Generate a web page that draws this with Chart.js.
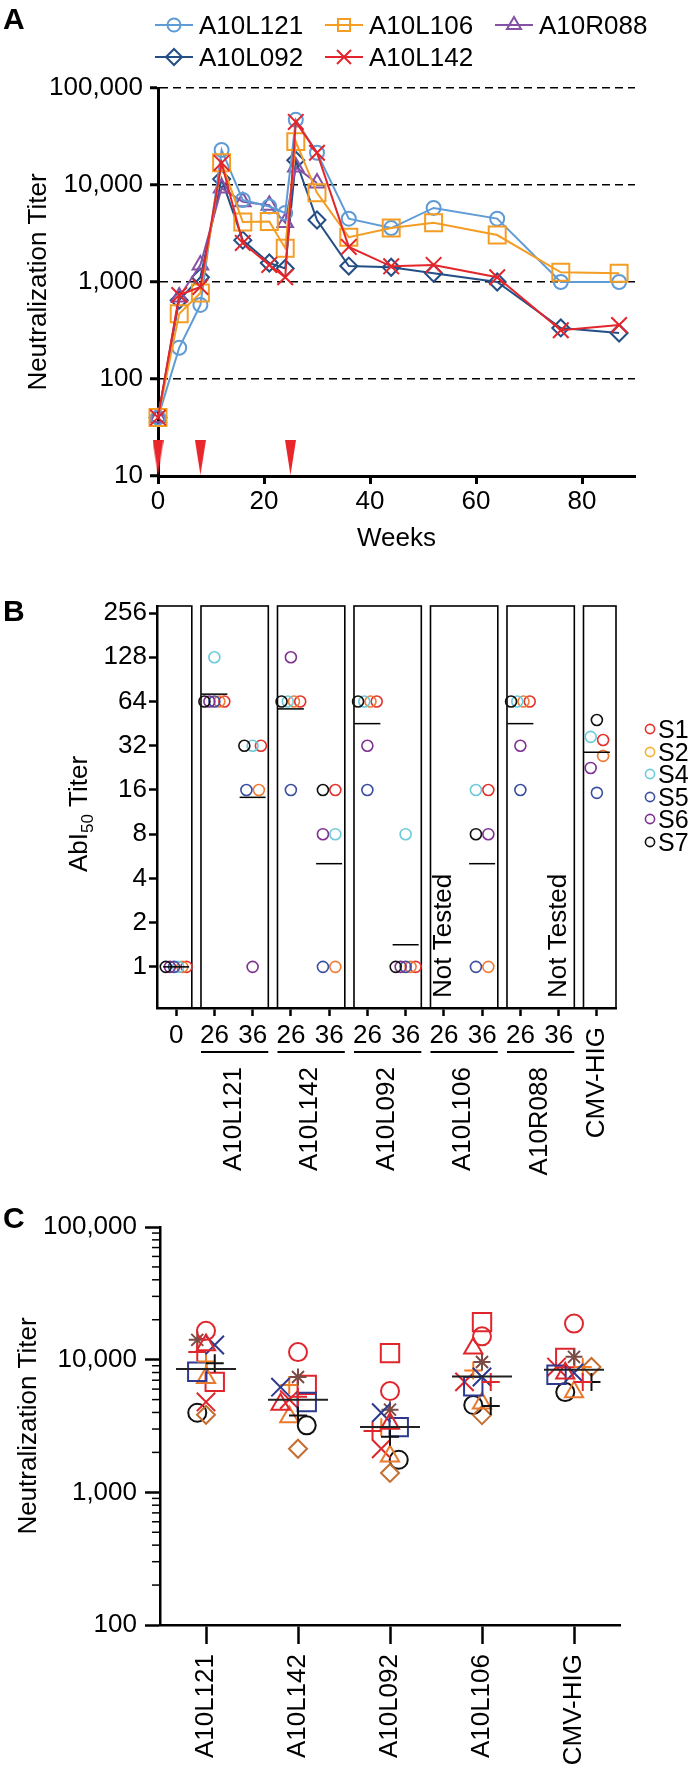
<!DOCTYPE html>
<html>
<head>
<meta charset="utf-8">
<title>Neutralization titers</title>
<script src="https://cdn.jsdelivr.net/npm/chart.js@4.4.1/dist/chart.umd.min.js"></script>
<style>
  html, body { margin:0; padding:0; background:#fff; }
  body { width:700px; height:1769px; position:relative; overflow:hidden;
         font-family:"Liberation Sans", Arial, Helvetica, sans-serif; color:#000; }
  canvas { position:absolute; left:0; }
  .plab { position:absolute; left:3px; font-weight:bold; font-size:30px; line-height:30px; z-index:2; }
  .legA { position:absolute; height:32px; display:flex; align-items:center; font-size:26px; line-height:32px; white-space:nowrap; z-index:2; }
  .legA svg { margin-right:6px; flex:none; }
  .legB { position:absolute; left:644px; height:28px; display:flex; align-items:center; font-size:25px; line-height:28px; white-space:nowrap; z-index:2; }
  .legB svg { margin-right:2px; flex:none; }
</style>
</head>
<body>
<div class="plab" style="top:4px;">A</div>
<div class="plab" style="top:596px;">B</div>
<div class="plab" style="top:1203px;">C</div>
<div id="legendA"></div>
<div id="legendB"></div>
<canvas id="chartA" width="700" height="554" style="top:0px"></canvas>
<canvas id="chartB" width="700" height="600" style="top:580px"></canvas>
<canvas id="chartC" width="700" height="589" style="top:1180px"></canvas>
<script>
// ================= DATA =================
// ---- Panel A: neutralization titer over time ----
const weeks   = [0, 4, 8, 12, 16, 21, 24, 26, 30, 36, 44, 52, 64, 76, 87];
const A10L121 = [40, 210, 580, 23000, 7000, 6000, 5150, 47000, 21500, 4500, 3600, 5800, 4500, 1000, 1000];
const A10L106 = [40, 470, 770, 17000, 4150, 4200, 2230, 28000, 8300, 2900, 3600, 4080, 3050, 1260, 1230];
const A10R088 = [40, 700, 1500, 9300, 6700, 6200, 4100, 15300, 10500, null, null, null, null, null, null];
const A10L092 = [40, 650, 1120, 11500, 2700, 1570, 1380, 18000, 4360, 1460, 1420, 1230, 1000, 336, 298];
const A10L142 = [40, 735, 890, 16900, 2530, 1500, 1120, 44700, 21500, 2300, 1450, 1500, 1120, 318, 360];
const vaccinationWeeks = [0, 8, 25];
const vaccinationMarkTiter = 15.5;
const aYTicks = [10, 100, 1000, 10000, 100000];
const aXTicks = [0, 20, 40, 60, 80];

// ---- Panel B: AbI50 titer per subject (null = not tested) ----
const bCategories = ['0', '26', '36', '26', '36', '26', '36', '26', '36', '26', '36', 'CMV-HIG'];
const bGroups     = ['A10L121', 'A10L142', 'A10L092', 'A10L106', 'A10R088'];
const S1 = [1, 64, 32, 64, 16, 64, 1, null, 16, 64, null, 35];
const S2 = [1, 64, 16, 64, 1, 64, 1, null, 1, 64, null, 27.3];
const S4 = [1, 128, 32, 64, 8, 64, 8, null, 16, 64, null, 36.8];
const S5 = [1, 64, 16, 16, 1, 16, 1, null, 1, 16, null, 15.3];
const S6 = [1, 64, 1, 128, 8, 32, 1, null, 8, 32, null, 22.6];
const S7 = [1, 64, 32, 64, 16, 64, 1, null, 8, 64, null, 47.9];
const bYTicks = [1, 2, 4, 8, 16, 32, 64, 128, 256];

// ---- Panel C: neutralization titer per animal ----
const cCategories = ['A10L121', 'A10L142', 'A10L092', 'A10L106', 'CMV-HIG'];
const cAnimal01 = [16500, 11400, 5800, 15000, 18700];  // red circle
const cAnimal02 = [12900, 4600, 3300, 12200, 7900];    // red triangle
const cAnimal03 = [11400, 5250, 2900, 6800, 6800];     // red plus
const cAnimal04 = [12900, 6200, 3980, 7400, 7950];     // navy x
const cAnimal05 = [14100, 7400, 4200, 9600, 10500];    // brown asterisk
const cAnimal06 = [9400, 3800, 2620, 4480, 6800];      // black plus
const cAnimal07 = [9700, 6450, 3100, 8300, 8800];      // orange plus
const cAnimal08 = [8100, 4800, 3100, 6300, 7700];      // navy square
const cAnimal09 = [7300, 3700, 1870, 4700, 5700];      // orange triangle
const cAnimal10 = [6800, 6450, 11200, 19200, 10300];   // red square
const cAnimal11 = [4800, 5000, 2130, 6800, 8800];      // red x
const cAnimal12 = [3840, 2130, 1400, 3820, 8800];      // brown diamond
const cAnimal13 = [3980, 3200, 1760, 4550, 5700];      // black circle
const cYTicks = [100, 1000, 10000, 100000];

// ================= STYLE =================
const FONT = '"Liberation Sans", Arial, Helvetica, sans-serif';
Chart.defaults.font.family = FONT;
Chart.defaults.color = '#000';
const TXT = {size: 26, family: FONT};
const NONE = 'rgba(0,0,0,0)';
const fmtComma = v => Number(v).toLocaleString('en-US');
const geomean = arr => { const a = arr.filter(v => v != null); return a.length ? Math.pow(10, a.reduce((s, v) => s + Math.log10(v), 0) / a.length) : null; };

function rotText(ctx, text, x, y, align) {
  ctx.save(); ctx.translate(x, y); ctx.rotate(-Math.PI / 2);
  ctx.textAlign = align; ctx.textBaseline = 'middle'; ctx.fillText(text, 0, 0); ctx.restore();
}

// ================= PANEL A =================
const seriesA = [
  {name: 'A10L142', vals: A10L142, color: '#e3262b', style: 'crossRot', r: 11, leg: [325, 57]},
  {name: 'A10L106', vals: A10L106, color: '#f49d25', style: 'rect', r: 12, leg: [325, 25]},
  {name: 'A10L121', vals: A10L121, color: '#5f9bd5', style: 'circle', r: 7, leg: [155, 25]},
  {name: 'A10R088', vals: A10R088, color: '#8451a5', style: 'triangle', r: 9, leg: [495, 25]},
  {name: 'A10L092', vals: A10L092, color: '#234f86', style: 'rectRot', r: 8.5, leg: [155, 57]}
];

// vaccination arrow glyph (elongated red triangle)
const arrow = document.createElement('canvas');
arrow.width = 11; arrow.height = 35;
(() => { const c = arrow.getContext('2d'); c.fillStyle = '#e8262b'; c.beginPath(); c.moveTo(0, 0); c.lineTo(11, 0); c.lineTo(5.5, 35); c.closePath(); c.fill(); })();

const dsA = [{
  label: 'vaccination', data: vaccinationWeeks.map(w => ({x: w, y: vaccinationMarkTiter})),
  showLine: false, pointStyle: arrow, pointRadius: 5, clip: false
}].concat(seriesA.map(s => ({
  label: s.name,
  data: weeks.map((w, i) => ({x: w, y: s.vals[i]})).filter(p => p.y != null),
  borderColor: s.color, backgroundColor: NONE, borderWidth: 2, tension: 0,
  pointStyle: s.style, pointRadius: s.r, pointBorderWidth: 2,
  pointBorderColor: s.color, pointBackgroundColor: NONE, clip: false
})));

new Chart(document.getElementById('chartA'), {
  type: 'line',
  data: {datasets: dsA},
  options: {
    responsive: false, animation: false, events: [],
    layout: {padding: {left: 0, top: 88, right: 65, bottom: 0}},
    plugins: {legend: {display: false}, tooltip: {enabled: false}},
    scales: {
      x: {
        type: 'linear', min: 0, max: 90, bounds: 'data',
        afterBuildTicks: s => { s.ticks = aXTicks.map(v => ({value: v})); },
        afterFit: s => { s.height = 78; },
        grid: {drawOnChartArea: false, tickLength: 8, tickWidth: 3, tickColor: '#000', color: '#000'},
        border: {display: true, color: '#000', width: 3},
        ticks: {color: '#000', font: TXT, padding: 2, maxRotation: 0, autoSkip: false, callback: v => String(v)},
        title: {display: true, text: 'Weeks', color: '#000', font: TXT, padding: 0}
      },
      y: {
        type: 'logarithmic', min: 10, max: 100000, bounds: 'data',
        afterBuildTicks: s => { s.ticks = aYTicks.map(v => ({value: v})); },
        afterFit: s => { s.width = 158; },
        grid: {
          drawOnChartArea: true, lineWidth: 1.5,
          color: c => (c.tick && c.tick.value > 10) ? '#000' : NONE,
          tickLength: 8, tickWidth: 3, tickColor: '#000'
        },
        border: {display: true, color: '#000', width: 3, dash: [8, 5]},
        ticks: {color: '#000', font: TXT, padding: 7, callback: fmtComma},
        title: {display: true, text: 'Neutralization Titer', color: '#000', font: TXT, padding: {top: 23, bottom: 0}}
      }
    }
  }
});

// legend A (html)
function iconSVG(style, color) {
  const m = {
    circle: `<circle cx="19" cy="12" r="6.5" fill="none" stroke="${color}" stroke-width="2"/>`,
    rect: `<rect x="13" y="6" width="12" height="12" fill="none" stroke="${color}" stroke-width="2"/>`,
    triangle: `<polygon points="19,4 26,16 12,16" fill="none" stroke="${color}" stroke-width="2"/>`,
    rectRot: `<polygon points="19,4 27,12 19,20 11,12" fill="none" stroke="${color}" stroke-width="2"/>`,
    crossRot: `<path d="M12 5 L26 19 M26 5 L12 19" stroke="${color}" stroke-width="2"/>`
  };
  return `<svg width="38" height="24" viewBox="0 0 38 24"><line x1="0" y1="12" x2="38" y2="12" stroke="${color}" stroke-width="2"/>${m[style]}</svg>`;
}
const legA = document.getElementById('legendA');
seriesA.forEach(s => {
  const d = document.createElement('div');
  d.className = 'legA';
  d.style.left = s.leg[0] + 'px'; d.style.top = (s.leg[1] - 16) + 'px';
  d.innerHTML = iconSVG(s.style, s.color) + `<span>${s.name}</span>`;
  legA.appendChild(d);
});

// ================= PANEL B =================
const bSubjects = [
  {name: 'S1', vals: S1, color: '#e4312b', legColor: '#e4312b'},
  {name: 'S2', vals: S2, color: '#ef7b35', legColor: '#f3b229'},
  {name: 'S4', vals: S4, color: '#6ccbdb', legColor: '#6ccbdb'},
  {name: 'S5', vals: S5, color: '#3c4f9f', legColor: '#3c4f9f'},
  {name: 'S6', vals: S6, color: '#7e3190', legColor: '#7e3190'},
  {name: 'S7', vals: S7, color: '#111111', legColor: '#111111'}
];
// horizontal spread of overlapping points inside one category
function clusterOffsets(vals, tol) {
  const offs = vals.map(() => 0);
  const idx = vals.map((v, i) => i).filter(i => vals[i] != null).sort((a, b) => vals[a] - vals[b]);
  const clusters = []; let cur = [];
  idx.forEach(i => {
    if (cur.length && Math.log2(vals[i]) - Math.log2(vals[cur[cur.length - 1]]) > tol) { clusters.push(cur); cur = []; }
    cur.push(i);
  });
  if (cur.length) clusters.push(cur);
  clusters.forEach(c => {
    c.sort((a, b) => b - a);
    const n = c.length, sp = Math.min(0.37, 0.65 / n);
    c.forEach((i, k) => { offs[i] = (k - (n - 1) / 2) * sp; });
  });
  return offs;
}
const bOffsets = bCategories.map((_, i) => clusterOffsets(bSubjects.map(s => s.vals[i]), 0.3));
const bMeans = bCategories.map((_, i) => geomean(bSubjects.map(s => s.vals[i])));
const bNotTested = bCategories.map((_, i) => i).filter(i => bSubjects.every(s => s.vals[i] == null));

// boxes around groups
const bBounds = [-0.5, 0.5, 2.5, 4.5, 6.5, 8.5, 10.5, 11.5];
const bBoxes = [];
for (let k = 0; k < bBounds.length - 1; k++) {
  bBoxes.push([k === 0 ? bBounds[0] : bBounds[k] + 0.15, k === bBounds.length - 2 ? bBounds[k + 1] : bBounds[k + 1] - 0.09]);
}

const dsB = [{
  label: 'geo mean',
  data: bMeans.map((m, i) => m == null ? null : {x: i, y: m}).filter(p => p),
  pointStyle: 'line', pointRadius: 13, pointBorderWidth: 1.5, pointBorderColor: '#000', pointBackgroundColor: NONE
}].concat(bSubjects.slice().reverse().map(s => {
  const si = bSubjects.indexOf(s);
  return {
    label: s.name,
    data: s.vals.map((v, i) => v == null ? null : {x: i + bOffsets[i][si], y: v}).filter(p => p),
    pointStyle: 'circle', pointRadius: 5.5, pointBorderWidth: 1.6,
    pointBorderColor: s.color, pointBackgroundColor: NONE
  };
}));

const bDecor = {
  id: 'bDecor',
  beforeDatasetsDraw(chart) {
    const {ctx, chartArea: ca, scales: {x}} = chart;
    ctx.save(); ctx.strokeStyle = '#000'; ctx.lineWidth = 1.6;
    bBoxes.forEach(([l, r]) => {
      const x1 = x.getPixelForValue(l), x2 = x.getPixelForValue(r);
      ctx.strokeRect(x1, ca.top, x2 - x1, ca.bottom - ca.top);
    });
    ctx.restore();
  },
  afterDraw(chart) {
    const {ctx, chartArea: ca, scales: {x}} = chart;
    ctx.save();
    ctx.fillStyle = '#000'; ctx.strokeStyle = '#000';
    ctx.font = '26px ' + FONT;
    bGroups.forEach((g, gi) => {
      const [l, r] = bBoxes[gi + 1];
      ctx.lineWidth = 2;
      ctx.beginPath();
      ctx.moveTo(x.getPixelForValue(l), ca.bottom + 44);
      ctx.lineTo(x.getPixelForValue(r), ca.bottom + 44);
      ctx.stroke();
      rotText(ctx, g, x.getPixelForValue(2 * gi + 1.5), ca.bottom + 59, 'right');
    });
    rotText(ctx, bCategories[11], x.getPixelForValue(11), ca.bottom + 19, 'right');
    bNotTested.forEach(i => rotText(ctx, 'Not Tested', x.getPixelForValue(i), ca.bottom - 10, 'left'));
    // y title with subscript
    const tx = 87, ty = (ca.top + ca.bottom) / 2 + 7;
    ctx.translate(tx, ty); ctx.rotate(-Math.PI / 2);
    ctx.textAlign = 'left'; ctx.textBaseline = 'alphabetic';
    const f1 = '26px ' + FONT, f2 = '17px ' + FONT;
    ctx.font = f1; const w1 = ctx.measureText('AbI').width, w3 = ctx.measureText(' Titer').width;
    ctx.font = f2; const w2 = ctx.measureText('50').width;
    let sx = -(w1 + w2 + w3) / 2;
    ctx.font = f1; ctx.fillText('AbI', sx, 0); sx += w1;
    ctx.font = f2; ctx.fillText('50', sx, 6); sx += w2;
    ctx.font = f1; ctx.fillText(' Titer', sx, 0);
    ctx.restore();
  }
};

new Chart(document.getElementById('chartB'), {
  type: 'scatter',
  data: {datasets: dsB},
  plugins: [bDecor],
  options: {
    responsive: false, animation: false, events: [],
    layout: {padding: {left: 0, top: 26, right: 84, bottom: 0}},
    plugins: {legend: {display: false}, tooltip: {enabled: false}},
    scales: {
      x: {
        type: 'linear', min: -0.5, max: 11.5, bounds: 'data',
        afterBuildTicks: s => { s.ticks = bCategories.map((_, i) => ({value: i})); },
        afterFit: s => { s.height = 172; },
        grid: {drawOnChartArea: false, tickLength: 8, tickWidth: 2.5, tickColor: '#000'},
        border: {display: true, color: '#000', width: 2.5},
        ticks: {color: '#000', font: TXT, padding: 4, maxRotation: 0, minRotation: 0, autoSkip: false,
                callback: v => (v === 11 ? '' : bCategories[v])}
      },
      y: {
        type: 'logarithmic', min: Math.pow(2, -0.93), max: Math.pow(2, 8.16), bounds: 'data',
        afterBuildTicks: s => { s.ticks = bYTicks.map(v => ({value: v})); },
        afterFit: s => { s.width = 157; },
        grid: {drawOnChartArea: false, tickLength: 8, tickWidth: 2.5, tickColor: '#000'},
        border: {display: true, color: '#000', width: 2.5},
        ticks: {color: '#000', font: TXT, padding: 2, callback: v => String(v)}
      }
    }
  }
});

// legend B (html)
const legB = document.getElementById('legendB');
bSubjects.forEach((s, k) => {
  const d = document.createElement('div');
  d.className = 'legB';
  d.style.top = (729 + 22.6 * k - 14) + 'px';
  d.innerHTML = `<svg width="12" height="12" viewBox="0 0 12 12"><circle cx="6" cy="6" r="4.6" fill="none" stroke="${s.legColor}" stroke-width="1.6"/></svg><span>${s.name}</span>`;
  legB.appendChild(d);
});

// ================= PANEL C =================
const RED = '#e0262c', NAVY = '#2d3a8f', BROWN = '#7b4b45', ORANGE = '#f27b21', ORANGE2 = '#e8792d', BROWN2 = '#c46e30', BLACK = '#111111';
const cAnimals = [
  {vals: cAnimal01, style: 'circle', r: 9, color: RED},
  {vals: cAnimal02, style: 'triangle', r: 10.5, color: RED},
  {vals: cAnimal03, style: 'cross', r: 9, color: RED},
  {vals: cAnimal04, style: 'crossRot', r: 13, color: NAVY},
  {vals: cAnimal05, style: 'star', r: 8.5, color: BROWN},
  {vals: cAnimal06, style: 'cross', r: 9, color: BLACK},
  {vals: cAnimal07, style: 'cross', r: 9, color: ORANGE},
  {vals: cAnimal08, style: 'rect', r: 13, color: NAVY},
  {vals: cAnimal09, style: 'triangle', r: 10.5, color: ORANGE2},
  {vals: cAnimal10, style: 'rect', r: 13, color: RED},
  {vals: cAnimal11, style: 'crossRot', r: 13, color: RED},
  {vals: cAnimal12, style: 'rectRot', r: 9, color: BROWN2},
  {vals: cAnimal13, style: 'circle', r: 9, color: BLACK}
];
// simple beeswarm in category units
function swarm(vals, slotW, gap) {
  const order = vals.map((v, i) => i).filter(i => vals[i] != null).sort((a, b) => vals[b] - vals[a]);
  const slots = [0, -1, 1, -2, 2];
  const placed = [], offs = vals.map(() => 0);
  order.forEach(i => {
    const lv = Math.log10(vals[i]);
    let chosen = null;
    for (const s of slots) {
      if (!placed.some(p => p.s === s && Math.abs(p.lv - lv) < gap)) { chosen = s; break; }
    }
    if (chosen === null) chosen = slots[placed.length % slots.length];
    placed.push({s: chosen, lv}); offs[i] = chosen * slotW;
  });
  return offs;
}
const cOffsets = cCategories.map((_, i) => swarm(cAnimals.map(a => a.vals[i]), 0.095, 0.09));
const cMeans = cCategories.map((_, i) => geomean(cAnimals.map(a => a.vals[i])));

const dsC = [{
  label: 'geo mean', data: cMeans.map((m, i) => ({x: i, y: m})),
  pointStyle: 'line', pointRadius: 30, pointBorderWidth: 2, pointBorderColor: '#222', pointBackgroundColor: NONE
}].concat(cAnimals.map((a, ai) => ({
  label: 'animal ' + (ai + 1),
  data: a.vals.map((v, i) => ({x: i + cOffsets[i][ai], y: v})),
  pointStyle: a.style, pointRadius: a.r, pointBorderWidth: 2,
  pointBorderColor: a.color, pointBackgroundColor: NONE
})));

const cMinor = {
  id: 'cMinor',
  afterDraw(chart) {
    const y = chart.scales.y, ctx = chart.ctx;
    ctx.save(); ctx.strokeStyle = '#000'; ctx.lineWidth = 1.5;
    for (let d = cYTicks[0]; d < cYTicks[cYTicks.length - 1]; d *= 10) {
      for (let k = 2; k <= 9; k++) {
        const py = y.getPixelForValue(d * k);
        ctx.beginPath(); ctx.moveTo(y.right - 8, py); ctx.lineTo(y.right, py); ctx.stroke();
      }
    }
    ctx.restore();
  }
};

new Chart(document.getElementById('chartC'), {
  type: 'scatter',
  data: {datasets: dsC},
  plugins: [cMinor],
  options: {
    responsive: false, animation: false, events: [],
    layout: {padding: {left: 0, top: 47, right: 80, bottom: 0}},
    plugins: {legend: {display: false}, tooltip: {enabled: false}},
    scales: {
      x: {
        type: 'linear', min: -0.5, max: 4.5, bounds: 'data',
        afterBuildTicks: s => { s.ticks = cCategories.map((_, i) => ({value: i})); },
        afterFit: s => { s.height = 144; },
        grid: {drawOnChartArea: false, tickLength: 19, tickWidth: 2.5, tickColor: '#000'},
        border: {display: true, color: '#000', width: 2.5},
        ticks: {color: '#000', font: TXT, padding: 10, minRotation: 90, maxRotation: 90, autoSkip: false,
                callback: v => cCategories[v]}
      },
      y: {
        type: 'logarithmic', min: 100, max: 100000, bounds: 'data',
        afterBuildTicks: s => { s.ticks = cYTicks.map(v => ({value: v})); },
        afterFit: s => { s.width = 160; },
        grid: {drawOnChartArea: false, tickLength: 15, tickWidth: 2.5, tickColor: '#000'},
        border: {display: true, color: '#000', width: 2.5},
        ticks: {color: '#000', font: TXT, padding: 8, callback: fmtComma},
        title: {display: true, text: 'Neutralization Titer', color: '#000', font: TXT, padding: {top: 13, bottom: 0}}
      }
    }
  }
});
</script>
</body>
</html>
